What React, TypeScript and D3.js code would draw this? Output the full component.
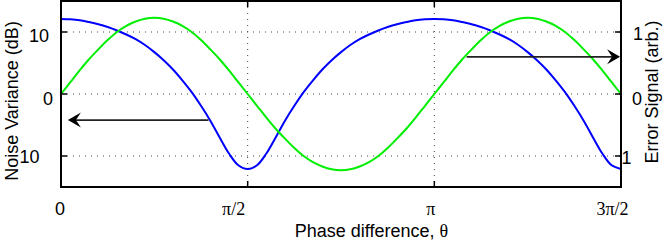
import React from "react";
import * as d3 from "d3";

// Sample positions in units of pi/2 (0 .. 3), step 0.05
const phaseSteps: number[] = d3.range(61).map((i) => i * 0.05);

// Noise variance (dB), left axis
const noiseVariance: number[] = [
  12.1, 12.05, 11.9, 11.6, 11.25, 10.8, 10.25, 9.6, 8.85, 7.9, 6.75, 5.45, 3.95, 2.2, 0.3, -1.9, -4.3, -7.0, -9.6, -11.5, -12.1,
  -11.5, -9.6, -7.0, -4.3, -1.9, 0.3, 2.2, 3.95, 5.45, 6.75, 7.9, 8.85, 9.6, 10.25, 10.8, 11.25, 11.6, 11.9, 12.05, 12.1,
  12.05, 11.9, 11.6, 11.25, 10.8, 10.25, 9.6, 8.85, 7.9, 6.75, 5.45, 3.95, 2.2, 0.3, -1.9, -4.3, -7.0, -9.6, -11.5, -12.1,
];

// Error signal (arb.), right axis
const errorSignal: number[] = [
  0, 0.19, 0.38, 0.56, 0.72, 0.87, 1.0, 1.1, 1.17, 1.215, 1.23, 1.215, 1.17, 1.1, 1.0, 0.87, 0.72, 0.56, 0.38, 0.19, 0,
  -0.19, -0.38, -0.56, -0.72, -0.87, -1.0, -1.1, -1.17, -1.215, -1.23, -1.215, -1.17, -1.1, -1.0, -0.87, -0.72, -0.56, -0.38, -0.19, 0,
  0.19, 0.38, 0.56, 0.72, 0.87, 1.0, 1.1, 1.17, 1.215, 1.23, 1.215, 1.17, 1.1, 1.0, 0.87, 0.72, 0.56, 0.38, 0.19, 0,
];

const xTickValues: number[] = [0, 1, 2, 3];
const xTickLabels: string[] = ["0", "π/2", "π", "3π/2"];
const leftTickValues: number[] = [10, 0, -10];
const leftTickLabels: string[] = ["10", "0", "10"];
const rightTickValues: number[] = [1, 0, -1];
const rightTickLabels: string[] = ["1", "0", "1"];

// arrows: [left axis value / right axis value, from, to] in pi/2 units
const leftArrow = { value: -4.2, from: 0.79, to: 0.037 };
const rightArrow = { value: 0.6, from: 2.173, to: 2.995 };

const W = 665;
const H = 245;
const L = 61, R = 621, T = 1, B = 187;

const SANS = "'Liberation Sans', Arial, Helvetica, sans-serif";
const SERIF = "'Liberation Serif', 'Times New Roman', serif";

// label placement tweaks (style only)
const xLabelDx = [-1, -14, -3.5, -8.5];
const xLabelFont = [SANS, SERIF, SERIF, SERIF];
const leftLabelX = [49, 53, 39.5];
const leftLabelY = [42, 104.5, 163];
const rightLabelX = [633, 632, 621.5];
const rightLabelY = [40, 104.5, 164];

function arrowHead(tipX: number, y: number, dir: number) {
  const len = 13, half = 7.5, notch = 5;
  const bx = tipX - dir * len;
  const nx = tipX - dir * (len - notch);
  return `M${tipX},${y} L${bx},${y - half} L${nx},${y} L${bx},${y + half} Z`;
}

export default function App() {
  const x = d3.scaleLinear().domain([0, 3]).range([L, R]);
  const yL = d3.scaleLinear().domain([-15, 15]).range([B, T]);
  const yR = d3.scaleLinear().domain([-1.5, 1.5]).range([B, T]);

  const blueLine = d3
    .line<number>()
    .x((_, i) => x(phaseSteps[i]))
    .y((d) => yL(d))
    .curve(d3.curveCatmullRom.alpha(0.5));
  const greenLine = d3
    .line<number>()
    .x((_, i) => x(phaseSteps[i]))
    .y((d) => yR(d))
    .curve(d3.curveCatmullRom.alpha(0.5));

  const la = { y: yL(leftArrow.value), x1: x(leftArrow.from), x2: x(leftArrow.to) };
  const ra = { y: yR(rightArrow.value), x1: x(rightArrow.from), x2: x(rightArrow.to) };

  return (
    <svg
      width={W}
      height={H}
      viewBox={`0 0 ${W} ${H}`}
      style={{ position: "absolute", left: 0, top: 0, background: "#fff" }}
    >
      <rect x={0} y={0} width={W} height={H} fill="#fff" />
      <defs>
        <clipPath id="plotclip">
          <rect x={L} y={T} width={R - L} height={B - T} />
        </clipPath>
      </defs>

      {/* grid */}
      <g stroke="#444" strokeWidth={1} strokeDasharray="1,5" fill="none">
        {leftTickValues.map((v, i) => (
          <line key={"h" + i} x1={L} x2={R} y1={yL(v)} y2={yL(v)} />
        ))}
        {xTickValues
          .filter((v) => v > 0 && v < 3)
          .map((v, i) => (
            <line key={"v" + i} x1={x(v)} x2={x(v)} y1={T} y2={B} />
          ))}
      </g>

      {/* curves */}
      <g clipPath="url(#plotclip)" fill="none" strokeLinejoin="round" strokeLinecap="round">
        <path d={blueLine(noiseVariance) || ""} stroke="#0000ff" strokeWidth={2} />
        <path d={greenLine(errorSignal) || ""} stroke="#00ee00" strokeWidth={2} />
      </g>

      {/* ticks */}
      <g stroke="#000" strokeWidth={1.5}>
        {leftTickValues.map((v, i) => (
          <line key={"lt" + i} x1={L} x2={L + 6} y1={yL(v)} y2={yL(v)} />
        ))}
        {rightTickValues.map((v, i) => (
          <line key={"rt" + i} x1={R - 6} x2={R} y1={yR(v)} y2={yR(v)} />
        ))}
        {xTickValues.map((v, i) => (
          <g key={"xt" + i}>
            <line x1={x(v)} x2={x(v)} y1={B} y2={B - 6} />
            <line x1={x(v)} x2={x(v)} y1={T} y2={T + 6} />
          </g>
        ))}
      </g>

      {/* frame */}
      <rect x={L} y={T} width={R - L} height={B - T} fill="none" stroke="#000" strokeWidth={2} />

      {/* arrows */}
      <g>
        <line x1={la.x1} x2={la.x2 + 8} y1={la.y} y2={la.y} stroke="#222" strokeWidth={1.8} />
        <path d={arrowHead(la.x2, la.y, -1)} fill="#000" />
        <line x1={ra.x1} x2={ra.x2 - 8} y1={ra.y} y2={ra.y} stroke="#222" strokeWidth={1.8} />
        <path d={arrowHead(ra.x2, ra.y, 1)} fill="#000" />
      </g>

      {/* tick labels */}
      <g fontSize={18} fill="#000">
        {xTickValues.map((v, i) => (
          <text key={"xl" + i} x={x(v) + xLabelDx[i]} y={214.5} textAnchor="middle" fontFamily={xLabelFont[i]}>
            {xTickLabels[i]}
          </text>
        ))}
        {leftTickValues.map((v, i) => (
          <text key={"ll" + i} x={leftLabelX[i]} y={leftLabelY[i]} textAnchor="end" fontFamily={SANS}>
            {leftTickLabels[i]}
          </text>
        ))}
        {rightTickValues.map((v, i) => (
          <text key={"rl" + i} x={rightLabelX[i]} y={rightLabelY[i]} textAnchor="start" fontFamily={SANS}>
            {rightTickLabels[i]}
          </text>
        ))}
      </g>

      {/* axis titles */}
      <text x={371.5} y={237} textAnchor="middle" fontSize={18} fontFamily={SANS} fill="#000">
        Phase difference, <tspan fontFamily={SERIF}>θ</tspan>
      </text>
      <text
        transform="translate(17.5,101) rotate(-90)"
        textAnchor="middle"
        fontSize={18}
        fontFamily={SANS}
        fill="#000"
      >
        Noise Variance (dB)
      </text>
      <text
        transform="translate(658,92) rotate(-90)"
        textAnchor="middle"
        fontSize={18}
        fontFamily={SANS}
        fill="#000"
      >
        Error Signal (arb.)
      </text>
    </svg>
  );
}
